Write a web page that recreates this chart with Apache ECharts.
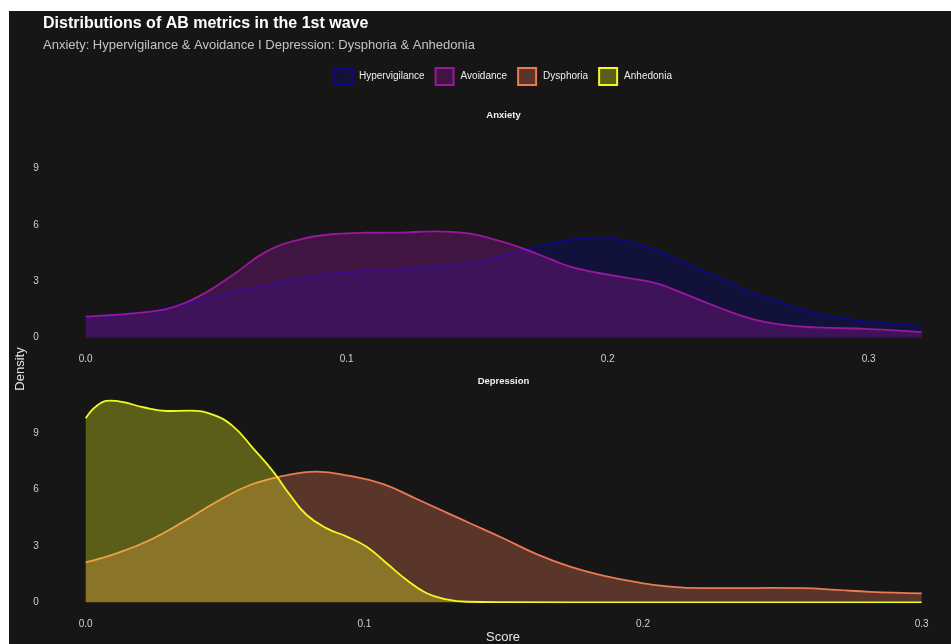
<!DOCTYPE html>
<html>
<head>
<meta charset="utf-8">
<title>Distributions of AB metrics in the 1st wave</title>
<script src="https://cdn.jsdelivr.net/npm/echarts@6/dist/echarts.min.js"></script>
<style>
  html, body { margin: 0; padding: 0; background: #ffffff; }
  #panel { position: absolute; left: 9px; top: 11px; right: 0; bottom: 0; background: #161616; }
  #chart { position: absolute; left: 0; top: 0; width: 951px; height: 644px; }
</style>
</head>
<body>
<div id="panel"></div>
<div id="chart"></div>
<script>
// Kernel density estimates of attention-bias scores, wave 1
const seriesNames = ['Hypervigilance', 'Avoidance', 'Dysphoria', 'Anhedonia'];
const facetNames = ['Anxiety', 'Depression'];

// Anxiety facet
const hyperScore = [0, 0.018, 0.031, 0.044, 0.0565, 0.069, 0.082, 0.095, 0.108, 0.120, 0.133, 0.146, 0.1575, 0.1677, 0.179, 0.1875, 0.1958, 0.2047, 0.215, 0.229, 0.2418, 0.2545, 0.2673, 0.28, 0.2928, 0.3068, 0.3203];
const hyperDensity = [1.03, 1.28, 1.56, 2.0, 2.45, 2.8, 3.16, 3.43, 3.56, 3.65, 3.78, 3.96, 4.28, 4.67, 5.05, 5.25, 5.33, 5.23, 4.84, 4.04, 3.24, 2.45, 1.83, 1.30, 0.98, 0.77, 0.62];
const avoidScore = [0, 0.018, 0.03, 0.038, 0.046, 0.0565, 0.069, 0.082, 0.095, 0.108, 0.120, 0.133, 0.146, 0.1575, 0.1677, 0.179, 0.1856, 0.1958, 0.2085, 0.2188, 0.229, 0.2418, 0.2545, 0.2673, 0.28, 0.3005, 0.3203];
const avoidDensity = [1.12, 1.30, 1.50, 1.85, 2.40, 3.35, 4.57, 5.23, 5.52, 5.59, 5.6, 5.66, 5.57, 5.2, 4.75, 4.13, 3.78, 3.46, 3.16, 2.89, 2.36, 1.65, 1.03, 0.68, 0.55, 0.46, 0.30];

// Depression facet
const dysScore = [0, 0.0111, 0.0231, 0.035, 0.047, 0.059, 0.0709, 0.0829, 0.0948, 0.1068, 0.1188, 0.1307, 0.1379, 0.1498, 0.1618, 0.1738, 0.1857, 0.1977, 0.2097, 0.2216, 0.2336, 0.2455, 0.2575, 0.2695, 0.2814, 0.3];
const dysDensity = [2.13, 2.61, 3.32, 4.29, 5.36, 6.25, 6.73, 6.96, 6.73, 6.3, 5.5, 4.7, 4.21, 3.41, 2.57, 1.9, 1.42, 1.07, 0.83, 0.75, 0.75, 0.77, 0.75, 0.66, 0.56, 0.48];
const anhScore = [0, 0.0039, 0.0087, 0.0135, 0.0207, 0.029, 0.0374, 0.0458, 0.053, 0.0601, 0.0673, 0.0733, 0.0793, 0.0865, 0.0937, 0.1008, 0.108, 0.1152, 0.1224, 0.1295, 0.1367, 0.15, 0.2, 0.25, 0.3];
const anhDensity = [9.80, 10.46, 10.74, 10.66, 10.39, 10.19, 10.21, 9.98, 9.36, 8.2, 6.96, 5.72, 4.65, 3.94, 3.5, 2.96, 2.08, 1.19, 0.48, 0.16, 0.03, 0.01, 0, 0, 0];

// Axis ticks
const scoreTicks = [0, 0.1, 0.2, 0.3];
const densityTicks = [0, 3, 6, 9];

// plasma(4)
const lineColors = ['#0D0887', '#9C179E', '#ED7953', '#F0F921'];
const fillAlpha = 0.32;

function rgba(hex, a) {
  const n = parseInt(hex.slice(1), 16);
  return 'rgba(' + ((n >> 16) & 255) + ',' + ((n >> 8) & 255) + ',' + (n & 255) + ',' + a + ')';
}
function pairs(xs, ys) { return xs.map((x, i) => [x, ys[i]]); }

const FONT = 'Liberation Sans, Arial, Helvetica, sans-serif';
const labelColor = '#cfcfcf';

const chart = echarts.init(document.getElementById('chart'), null, { renderer: 'canvas' });

const gridLeft = 85.7, gridRight = 29.3, panelH = 206.5;
const xAxisBase = {
  type: 'value',
  axisLine: { show: false },
  axisTick: { show: false },
  splitLine: { show: false },
  axisLabel: {
    color: labelColor, fontSize: 10, fontFamily: FONT, margin: 17,
    customValues: scoreTicks,
    formatter: v => v.toFixed(1)
  }
};
const yAxisBase = {
  type: 'value', min: 0, max: 11,
  axisLine: { show: false },
  axisTick: { show: false },
  splitLine: { show: false },
  axisLabel: {
    color: labelColor, fontSize: 10, fontFamily: FONT, margin: 47,
    customValues: densityTicks
  }
};

const dataSets = [
  pairs(hyperScore, hyperDensity),
  pairs(avoidScore, avoidDensity),
  pairs(dysScore, dysDensity),
  pairs(anhScore, anhDensity)
];

const series = seriesNames.map((name, i) => ({
  name: name,
  type: 'line',
  xAxisIndex: i < 2 ? 0 : 1,
  yAxisIndex: i < 2 ? 0 : 1,
  data: dataSets[i],
  smooth: 0.45,
  showSymbol: false,
  symbol: 'none',
  lineStyle: { color: lineColors[i], width: 1.8 },
  itemStyle: { color: lineColors[i] },
  areaStyle: { color: rgba(lineColors[i], fillAlpha), opacity: 1, origin: 'start' },
  z: 2 + i,
  silent: true
}));

chart.setOption({
  backgroundColor: 'transparent',
  animation: false,
  title: [
    {
      text: 'Distributions of AB metrics in the 1st wave',
      left: 43, top: 16, padding: 0,
      textStyle: { color: '#ffffff', fontSize: 16, fontWeight: 'bold', fontFamily: FONT }
    },
    {
      text: 'Anxiety: Hypervigilance & Avoidance I Depression: Dysphoria & Anhedonia',
      left: 43, top: 39, padding: 0,
      textStyle: { color: '#c4c4c4', fontSize: 13, fontWeight: 'normal', fontFamily: FONT }
    }
  ],
  legend: {
    left: 333, top: 67, padding: 0,
    itemWidth: 18, itemHeight: 17, itemGap: 10,
    icon: 'rect',
    textStyle: { color: '#eeeeee', fontSize: 10, fontFamily: FONT, padding: [0, 0, 0, 2] },
    data: seriesNames.map((name, i) => ({
      name: name,
      icon: 'rect',
      itemStyle: { color: rgba(lineColors[i], fillAlpha), borderColor: lineColors[i], borderWidth: 2 }
    })),
    selectedMode: false
  },
  grid: [
    { left: gridLeft, right: gridRight, top: 337.7 - panelH, height: panelH, containLabel: false },
    { left: gridLeft, right: gridRight, top: 602.3 - panelH, height: panelH, containLabel: false }
  ],
  xAxis: [
    Object.assign({}, xAxisBase, { gridIndex: 0, min: 0, max: 0.3203 }),
    Object.assign({}, xAxisBase, { gridIndex: 1, min: 0, max: 0.3 })
  ],
  yAxis: [
    Object.assign({}, yAxisBase, { gridIndex: 0 }),
    Object.assign({}, yAxisBase, { gridIndex: 1 })
  ],
  graphic: [
    { type: 'text', x: 503.5, y: 115.5, style: { text: facetNames[0], fill: '#f0f0f0', font: 'bold 9.5px ' + FONT, align: 'center', verticalAlign: 'middle' } },
    { type: 'text', x: 503.5, y: 381, style: { text: facetNames[1], fill: '#f0f0f0', font: 'bold 9.5px ' + FONT, align: 'center', verticalAlign: 'middle' } },
    { type: 'text', x: 503, y: 637, style: { text: 'Score', fill: '#e6e6e6', font: '13px ' + FONT, align: 'center', verticalAlign: 'middle' } },
    { type: 'text', x: 20, y: 369, rotation: Math.PI / 2, style: { text: 'Density', fill: '#e6e6e6', font: '13px ' + FONT, align: 'center', verticalAlign: 'middle' } }
  ],
  series: series
});
</script>
</body>
</html>
